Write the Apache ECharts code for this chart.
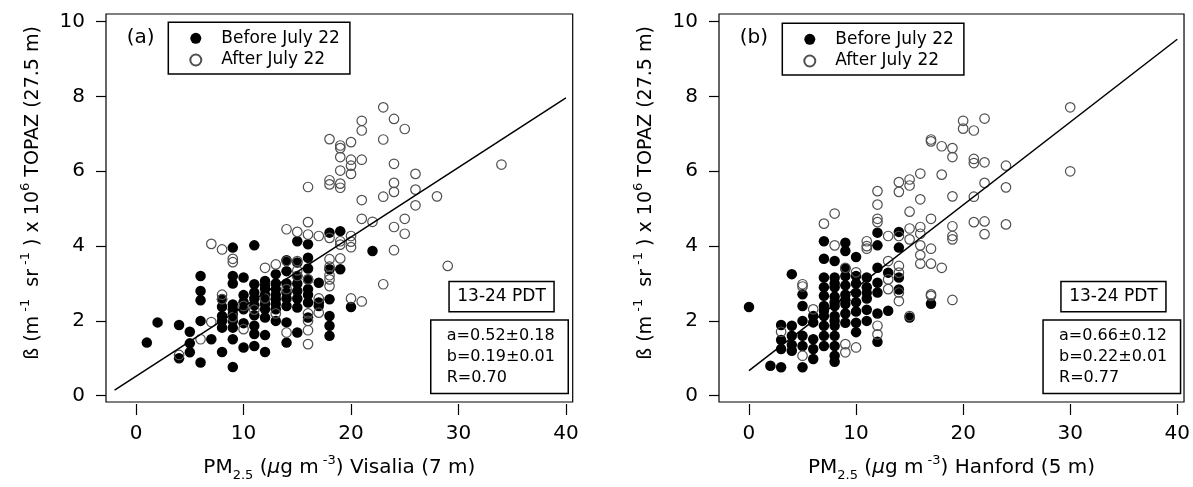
<!DOCTYPE html>
<html>
<head>
<meta charset="utf-8">
<script src="https://cdn.jsdelivr.net/npm/echarts@6/dist/echarts.min.js"></script>
<style>
html,body{margin:0;padding:0;background:#fff;}
#chart{width:1193px;height:487px;}
</style>
</head>
<body>
<div id="chart"></div>
<script>
// ---------------- DATA ----------------
const seriesNames = ['Before July 22', 'After July 22'];
const xTicks = [0, 10, 20, 30, 40];
const yTicks = [0, 2, 4, 6, 8, 10];

// Panel (a): Visalia
const beforeA = [
[1,1.42],[2,1.96],[4,1.89],[4,1.00],[5,1.71],[5,1.40],[5,1.16],
[6,3.20],[6,2.80],[6,2.55],[6,2.00],[6,0.89],[7,1.51],
[8,2.58],[8,2.38],[8,2.13],[8,1.82],[8,1.17],[8,2.00],
[9,3.96],[9,3.20],[9,3.00],[9,2.44],[9,2.31],[9,2.18],[9,2.00],[9,1.82],[9,1.51],[9,0.77],
[10,3.16],[10,2.69],[10,2.31],[10,1.94],[10,1.29],[10,2.50],
[11,4.02],[11,2.98],[11,2.76],[11,2.42],[11,2.15],[11,1.87],[11,1.65],[11,1.33],[11,2.60],
[12,3.07],[12,2.85],[12,2.58],[12,2.31],[12,2.09],[12,1.62],[12,1.17],[12,2.95],[12,2.70],[12,2.45],
[13,3.25],[13,2.85],[13,2.58],[13,2.31],[13,2.00],[13,3.00],[13,2.70],[13,2.45],
[14,3.62],[14,3.33],[14,2.76],[14,2.40],[14,1.96],[14,1.42],[14,2.60],[14,3.00],
[15,4.13],[15,3.56],[15,3.20],[15,2.80],[15,2.36],[15,1.69],[15,2.60],[15,3.00],
[16,4.05],[16,3.69],[16,3.11],[16,2.85],[16,2.49],[16,2.09],[16,3.40],[16,2.70],
[17,3.02],[17,2.49],[17,2.40],
[18,4.36],[18,3.38],[18,2.58],[18,2.13],[18,1.87],[18,1.60],
[19,4.40],[19,3.38],[20,2.37],[22,3.87]
];
const afterA = [
[4,1.09],[6,1.51],[7,4.06],[7,1.97],[8,3.91],[8,2.70],[8,2.58],[9,3.66],[9,3.57],[9,2.10],
[10,1.78],[10,2.40],[11,2.30],[12,3.42],[12,2.60],[13,3.51],[13,2.20],
[14,4.45],[14,3.60],[14,2.85],[14,1.69],[15,4.38],[15,3.60],[15,3.35],[15,3.20],
[16,5.58],[16,4.64],[16,4.31],[16,3.11],[16,2.20],[16,2.00],[16,1.75],[16,1.38],
[17,4.27],[17,2.60],[17,2.22],
[18,6.86],[18,5.76],[18,5.65],[18,4.22],[18,3.65],[18,3.45],[18,3.22],[18,3.11],[18,2.93],
[19,6.69],[19,6.62],[19,6.38],[19,6.02],[19,5.67],[19,5.56],[19,4.13],[19,4.04],[19,3.67],
[20,6.78],[20,6.31],[20,6.15],[20,5.93],[20,4.27],[20,4.12],[20,3.97],[20,2.60],
[21,7.35],[21,7.09],[21,6.31],[21,5.23],[21,4.73],[21,2.52],
[22,4.65],[23,7.71],[23,6.85],[23,5.32],[23,2.98],
[24,7.40],[24,6.20],[24,5.69],[24,5.45],[24,4.51],[24,3.89],
[25,7.13],[25,4.73],[25,4.33],[26,5.93],[26,5.51],[26,5.09],
[28,5.33],[29,3.47],[34,6.18]
];
const fitA = [[-2.0, 0.15], [40.0, 7.96]];
const statsA = ['a=0.52\u00B10.18', 'b=0.19\u00B10.01', 'R=0.70'];

// Panel (b): Hanford
const beforeB = [
[0,2.37],[2,0.80],[3,1.89],[3,1.49],[3,1.25],[3,0.76],
[4,3.25],[4,1.87],[4,1.60],[4,1.36],[4,1.20],
[5,2.71],[5,2.40],[5,2.00],[5,1.60],[5,1.33],[5,0.76],
[6,2.13],[6,1.96],[6,1.51],[6,1.25],[6,0.98],
[7,4.13],[7,3.66],[7,3.16],[7,2.67],[7,2.40],[7,2.13],[7,1.87],[7,1.60],[7,1.33],[7,2.90],[7,2.27],
[8,3.60],[8,3.16],[8,2.90],[8,2.65],[8,2.40],[8,2.13],[8,1.87],[8,1.60],[8,1.33],[8,1.07],[8,0.91],[8,3.00],[8,2.50],[8,2.00],
[9,4.09],[9,3.87],[9,3.20],[9,2.95],[9,2.70],[9,2.45],[9,2.20],[9,1.95],[9,3.40],[9,2.55],
[10,3.71],[10,3.00],[10,2.75],[10,2.50],[10,2.25],[10,1.95],[10,1.70],[10,3.20],
[11,3.16],[11,2.90],[11,2.60],[11,2.30],[11,2.00],[11,2.75],
[12,4.36],[12,4.02],[12,3.42],[12,3.02],[12,2.76],[12,2.20],[12,1.44],
[13,3.29],[13,2.27],[14,4.38],[14,3.96],[14,3.16],[14,2.84],
[15,2.09],[17,2.46]
];
const afterB = [
[3,1.71],[5,2.98],[5,2.92],[5,1.07],[6,2.31],[7,4.60],[8,4.87],[8,4.02],
[9,3.42],[9,1.38],[9,1.16],[10,1.29],[10,3.30],[11,4.13],[11,4.00],[11,3.93],
[12,5.47],[12,5.11],[12,4.73],[12,4.64],[12,1.87],[12,1.64],
[13,4.27],[13,3.60],[13,3.11],[13,2.85],
[14,5.71],[14,5.45],[14,4.27],[14,3.47],[14,3.29],[14,2.76],[14,2.53],
[15,5.78],[15,5.62],[15,4.92],[15,4.47],[15,4.18],[15,2.13],
[16,5.94],[16,5.25],[16,4.51],[16,4.33],[16,4.02],[16,3.76],[16,3.53],
[17,6.85],[17,6.80],[17,4.73],[17,3.93],[17,3.53],[17,2.71],[17,2.67],
[18,6.67],[18,5.91],[18,3.42],
[19,6.62],[19,6.38],[19,5.33],[19,4.53],[19,4.27],[19,4.18],[19,2.56],
[20,7.35],[20,7.14],[21,7.09],[21,6.33],[21,6.22],[21,5.32],[21,4.64],
[22,7.41],[22,6.24],[22,5.69],[22,4.66],[22,4.32],
[24,6.15],[24,5.57],[24,4.58],[30,7.71],[30,6.00]
];
const fitB = [[0.0, 0.67], [40.0, 9.53]];
const statsB = ['a=0.66\u00B10.12', 'b=0.22\u00B10.01', 'R=0.77'];

const panelLabels = ['(a)', '(b)'];
const sites = ['Visalia (7 m)', 'Hanford (5 m)'];
const timeLabel = '13-24 PDT';
const yTitle = '{n|\u00DF (m}{sup| -1}{n|  sr}{sup| -1}{n| ) x 10}{sup|6}{n| TOPAZ (27.5 m)}';

// ---------------- CHART ----------------
const FONT = 'DejaVu Sans';
const chart = echarts.init(document.getElementById('chart'), null, {renderer: 'canvas'});

const richBase = {
  n:   {fontSize: 20, fontFamily: FONT, color: '#000', lineHeight: 28},
  it:  {fontSize: 20, fontFamily: FONT, color: '#000', fontStyle: 'italic', lineHeight: 28},
  sup: {fontSize: 13, fontFamily: FONT, color: '#000', verticalAlign: 'top'},
  sub: {fontSize: 13, fontFamily: FONT, color: '#000', verticalAlign: 'bottom'}
};
const richG = {
  n:   {fontSize: 19, fontFamily: FONT, fill: '#000', lineHeight: 28},
  sup: {fontSize: 13, fontFamily: FONT, fill: '#000', verticalAlign: 'top'}
};

const grids = [
  {left: 106, top: 14, width: 466.7, height: 389},
  {left: 719, top: 14, width: 466, height: 389}
];

function xAxisFor(i) {
  return {
    gridIndex: i, type: 'value', min: -2.8, max: 40.63, offset: 2,
    axisLine: {show: false, onZero: false},
    axisTick: {show: true, length: 11, customValues: xTicks, lineStyle: {color: '#000', width: 1.2}},
    axisLabel: {customValues: xTicks, fontSize: 20, fontFamily: FONT, color: '#000', margin: 20},
    splitLine: {show: false},
    name: '{n|PM}{sub|2.5}{n| (}{it|\u00B5}{n|g m}{sup| -3}{n|) ' + sites[i] + '}',
    nameLocation: 'middle', nameGap: 50,
    nameTextStyle: {rich: richBase}
  };
}
function yAxisFor(i) {
  return {
    gridIndex: i, type: 'value', min: -0.168, max: 10.205,
    axisLine: {show: false, onZero: false},
    axisTick: {show: true, length: 10, customValues: yTicks, lineStyle: {color: '#000', width: 1.2}},
    axisLabel: {customValues: yTicks, fontSize: 20, fontFamily: FONT, color: '#000', margin: 21},
    splitLine: {show: false}
  };
}
function seriesFor(i, before, after, fit) {
  return [
    {name: seriesNames[0], type: 'scatter', xAxisIndex: i, yAxisIndex: i, data: before,
     symbol: 'circle', symbolSize: 10.5, itemStyle: {color: '#000', opacity: 1}, z: 2},
    {name: seriesNames[1], type: 'scatter', xAxisIndex: i, yAxisIndex: i, data: after,
     symbol: 'circle', symbolSize: 9.5, itemStyle: {color: 'rgba(255,255,255,0)', borderColor: '#505050', borderWidth: 1.2, opacity: 1}, z: 3},
    {name: 'fit' + i, type: 'line', xAxisIndex: i, yAxisIndex: i, data: fit,
     showSymbol: false, symbol: 'none', lineStyle: {color: '#000', width: 1.5}, z: 4, silent: true}
  ];
}
function legendFor(i) {
  return {
    data: seriesNames, left: grids[i].left + 62.3 + (i === 1 ? 1 : 0), top: 22.3 + i,
    orient: 'vertical', icon: 'circle', itemWidth: 11, itemHeight: 11, itemGap: 3.7,
    padding: [7, 10, 5, 21], borderColor: '#000', borderWidth: 1.5, backgroundColor: '#fff',
    textStyle: {fontSize: 17, fontFamily: FONT, color: '#000', lineHeight: 18, padding: [0, 0, 0, 15]},
    selectedMode: false
  };
}
function boxes(i, stats) {
  const gl = grids[i].left, gr = grids[i].left + grids[i].width;
  const els = [];
  els.push({type: 'text', left: gl + 20.7, top: 28,
    style: {text: panelLabels[i], fontSize: 20, fontFamily: FONT, fill: '#000'}});
  els.push({type: 'group', left: gr - 124.4 + (i === 1 ? -0.4 : 0), top: 280.7, children: [
    {type: 'rect', shape: {x: 0, y: 0, width: 105, height: 30.3}, style: {fill: '#fff', stroke: '#000', lineWidth: 1.5}},
    {type: 'text', x: 52.5, y: 15.5, style: {text: timeLabel, fontSize: 17, fontFamily: FONT, fill: '#000', textAlign: 'center', textVerticalAlign: 'middle'}}
  ]});
  const kids = [{type: 'rect', shape: {x: 0, y: 0, width: 137.5, height: 73.4}, style: {fill: '#fff', stroke: '#000', lineWidth: 1.5}}];
  stats.forEach(function (s, k) {
    kids.push({type: 'text', x: 16, y: 16 + k * 20.8, style: {text: s, fontSize: 16, fontFamily: FONT, fill: '#000', textAlign: 'left', textVerticalAlign: 'middle'}});
  });
  els.push({type: 'group', left: gr - 142.7, top: 319.3, children: kids});
  els.push({type: 'text', x: gl - 73, y: 193, rotation: Math.PI / 2,
    style: {text: yTitle, rich: richG, textAlign: 'center', textVerticalAlign: 'middle', fontSize: 19, fontFamily: FONT, fill: '#000'}});
  return els;
}

const option = {
  animation: false,
  backgroundColor: '#fff',
  grid: grids.map(function (g) {
    return Object.assign({show: true, borderColor: '#000', borderWidth: 1.2, backgroundColor: 'rgba(0,0,0,0)', containLabel: false}, g);
  }),
  xAxis: [xAxisFor(0), xAxisFor(1)],
  yAxis: [yAxisFor(0), yAxisFor(1)],
  legend: [legendFor(0), legendFor(1)],
  series: seriesFor(0, beforeA, afterA, fitA).concat(seriesFor(1, beforeB, afterB, fitB)),
  graphic: boxes(0, statsA).concat(boxes(1, statsB))
};
chart.setOption(option);
</script>
</body>
</html>
